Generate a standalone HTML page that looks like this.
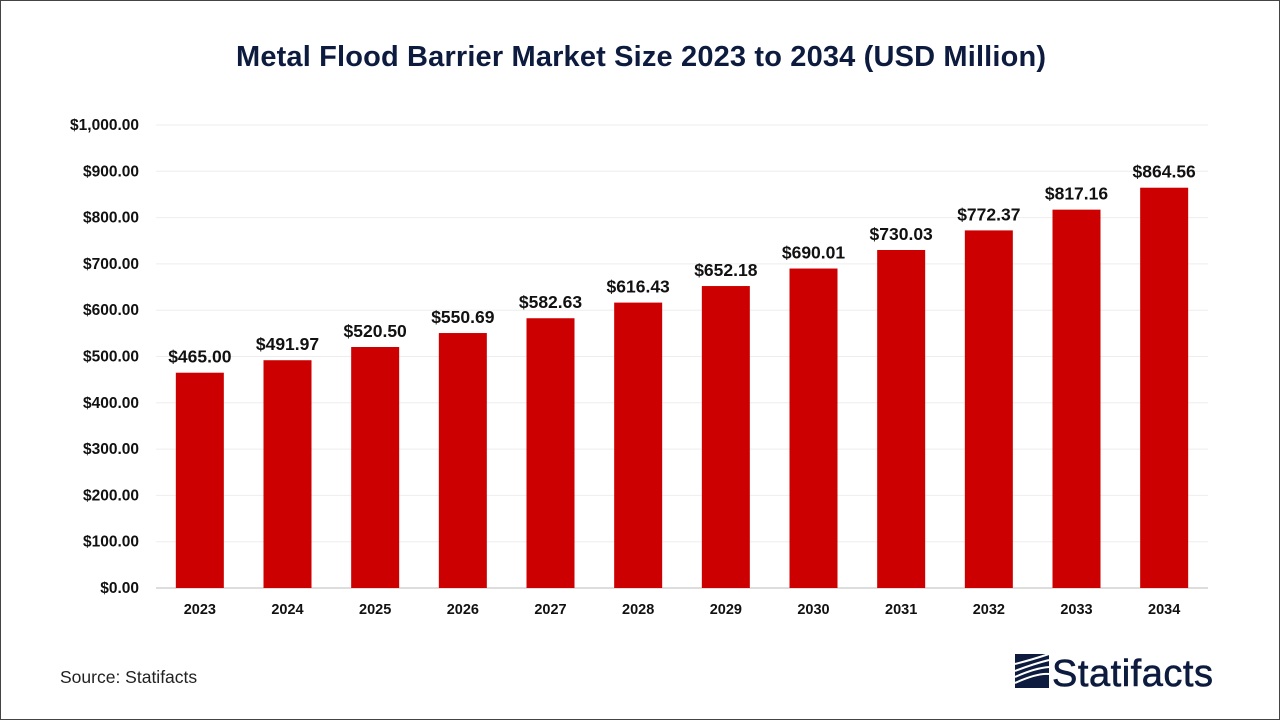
<!DOCTYPE html>
<html><head><meta charset="utf-8"><style>
body{margin:0;background:#fff;}
#wrap{position:relative;width:1278px;height:718px;border:1px solid #444;overflow:hidden;font-family:"Liberation Sans",sans-serif;background:#fff}
</style></head><body>
<div id="wrap">
<svg id="chart" width="1278" height="718">
<text x="640" y="65" text-anchor="middle" font-size="29" font-weight="bold" fill="#0d1b3e" textLength="810">Metal Flood Barrier Market Size 2023 to 2034 (USD Million)</text>
<g id="grid"></g><g id="bars"></g>
<text x="59" y="682" font-size="17.5" fill="#222">Source: Statifacts</text>
<g>
<rect x="1014" y="653" width="34" height="34" fill="#0d1b3e"/>
<path d="M1014 663 Q1030 659 1048 653 M1014 670 Q1032 663 1048 659 M1014 676 Q1034 667 1048 666 M1014 682 Q1036 672 1048 673" stroke="#fff" stroke-width="2" fill="none"/>
<text x="1051" y="685" font-size="38" fill="#0d1b3e" stroke="#0d1b3e" stroke-width="0.6" textLength="161">Statifacts</text>
</g>
</svg>
</div>
<script>
const categories=["2023","2024","2025","2026","2027","2028","2029","2030","2031","2032","2033","2034"];
const values=[465.00,491.97,520.50,550.69,582.63,616.43,652.18,690.01,730.03,772.37,817.16,864.56];
const yTicks=[0,100,200,300,400,500,600,700,800,900,1000];
const NS="http://www.w3.org/2000/svg";
const x0=155,x1=1207,yBase=587,yTop=124,yMax=1000;
const y=v=>yBase-(v/yMax)*(yBase-yTop);
const step=(x1-x0)/categories.length;
const xc=i=>x0+step*(i+0.5);
const bw=48;
function mk(tag,attrs,parent){const e=document.createElementNS(NS,tag);for(const k in attrs)e.setAttribute(k,attrs[k]);parent.appendChild(e);return e;}
const grid=document.getElementById('grid'),bars=document.getElementById('bars');
yTicks.forEach(t=>{
 const l=mk('line',{x1:x0,x2:x1,y1:y(t),y2:y(t),stroke:t===0?'#bbb':'#eee','stroke-width':1},grid);
 
 
 const tx=mk('text',{x:138,y:y(t)+5,'text-anchor':'end','font-size':15.5,'font-weight':'bold',fill:'#111'},grid);
 tx.textContent='$'+t.toLocaleString('en-US',{minimumFractionDigits:2});
 
 
});
categories.forEach((c,i)=>{
 const r=mk('rect',{x:xc(i)-bw/2,y:y(values[i]),width:bw,height:yBase-y(values[i]),fill:'#cc0000'},bars);
 
 
 const v=mk('text',{x:xc(i),y:y(values[i])-10,'text-anchor':'middle','font-size':17.5,'font-weight':'bold',fill:'#111'},bars);
 v.textContent='$'+values[i].toFixed(2);
 
 
 const xl=mk('text',{x:xc(i),y:613,'text-anchor':'middle','font-size':14.5,'font-weight':'bold',fill:'#111'},bars);
 xl.textContent=c;
 
 
});
</script>
</body></html>
